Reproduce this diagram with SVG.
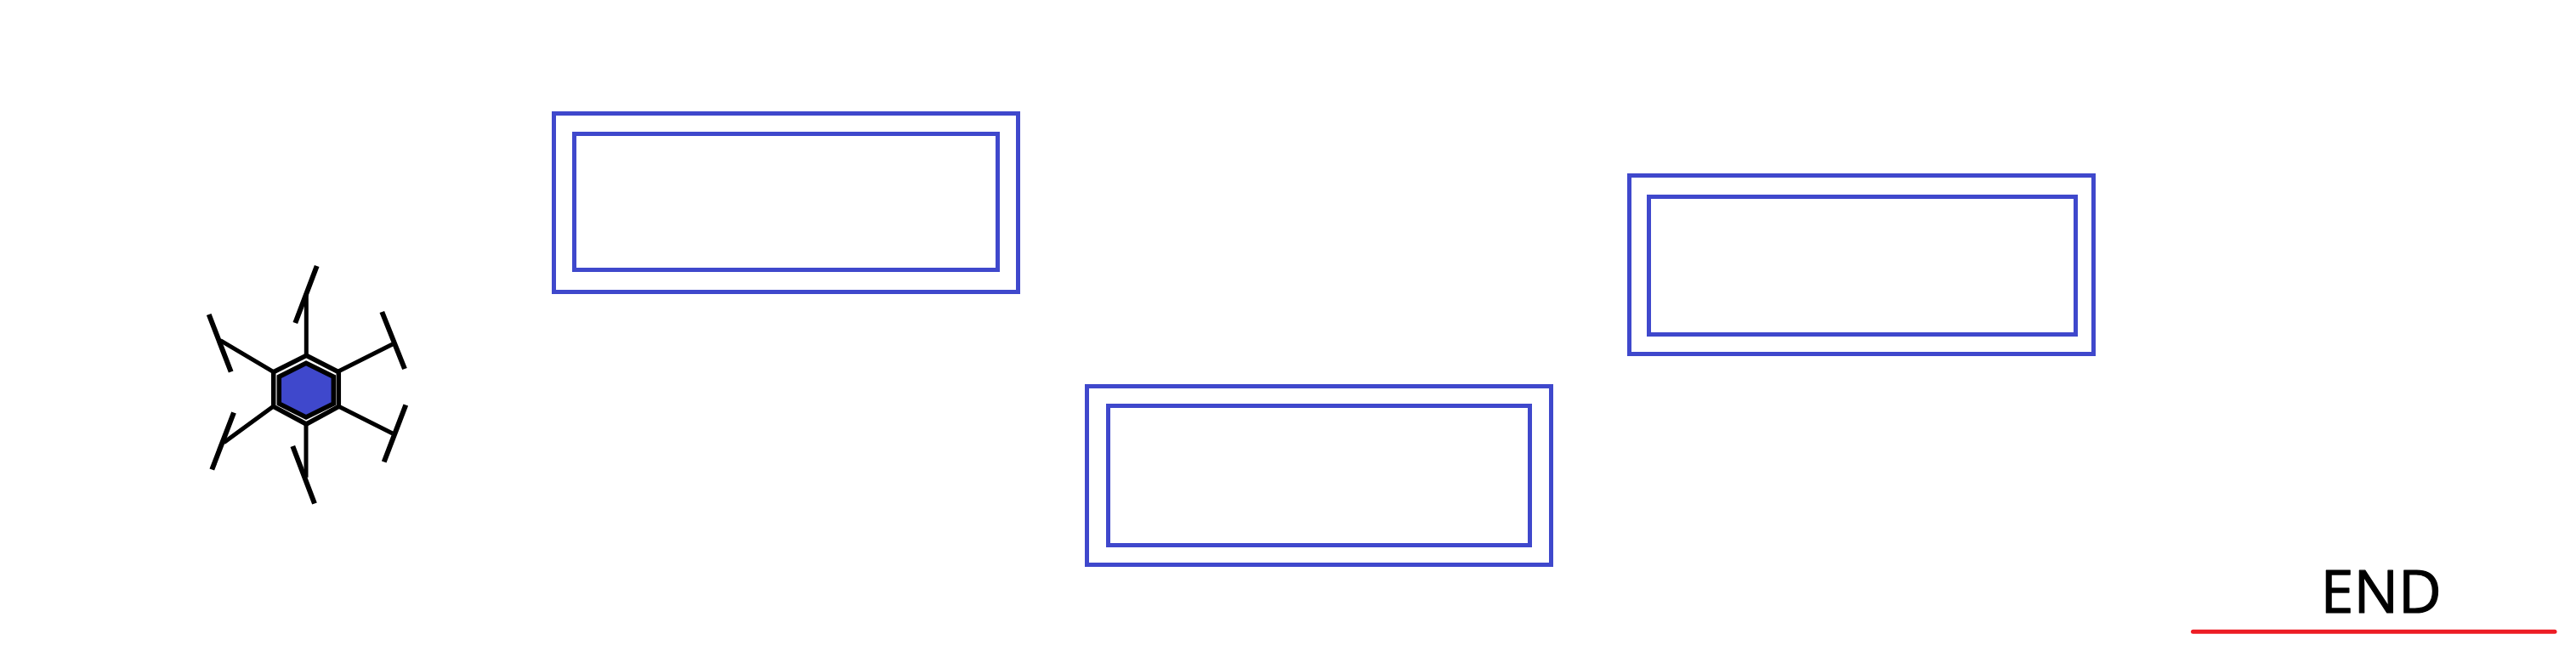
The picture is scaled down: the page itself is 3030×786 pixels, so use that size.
<svg xmlns="http://www.w3.org/2000/svg" width="3030" height="786" viewBox="0 0 3030 786">
<style>
.box{fill:none;stroke:#3f48cc;stroke-width:5}
.hex{stroke:#000;stroke-linejoin:miter}
.s{stroke:#000;stroke-width:5;fill:none}
.b{stroke:#000;stroke-width:6;fill:none;stroke-linecap:butt}
.t{font-family:"Open Sans","Noto Sans",sans-serif;font-size:70px;fill:#000;stroke:#000;stroke-width:1.2px;stroke-linejoin:round}
</style>
<rect width="3030" height="786" fill="#fff"/>
<g id="icon">
<polygon class="hex" points="360.3,418.3 398.3,437.700 398.300,478.300 360.300,499 321.700,478.300 321.700,437.700" fill="none" stroke-width="5.500"/>
<polygon class="hex" points="360,427.300 392.300,443.300 392.300,475 360,491 328.300,475 328.300,443.300" fill="#3f48cc" stroke-width="5.500"/>
</g>
<g id="connectors">
<path class="s" d="M360.300 418V345M398 437L461.700 405M398 478L461.700 510M360 499V561.700M321.700 478L263.300 520.700M321.700 437.700L259.300 400.700"/>
<path class="b" d="M372.700 313L347.300 380M449.300 367L476 434M477.300 476.500L451.700 543.500M344.300 525L370 592.500M275 485.500L249.300 552.500M245.700 370L271.700 437.500"/>
</g>
<g id="box1"><rect class="box" x="651.500" y="133.500" width="546" height="210"/><rect class="box" x="675.500" y="157.500" width="498" height="160"/></g>
<g id="box2"><rect class="box" x="1278.500" y="454.500" width="546" height="210"/><rect class="box" x="1303.500" y="477.500" width="496" height="164"/></g>
<g id="box3"><rect class="box" x="1916.500" y="206.500" width="546" height="210"/><rect class="box" x="1939.500" y="231.500" width="502" height="162"/></g>
<g id="end">
<text class="t" x="2729.500" y="720.700">END</text>
<line x1="2579.500" y1="743.300" x2="3005" y2="743.300" stroke="#ed1c24" stroke-width="5" stroke-linecap="round"/>
</g>
</svg>
